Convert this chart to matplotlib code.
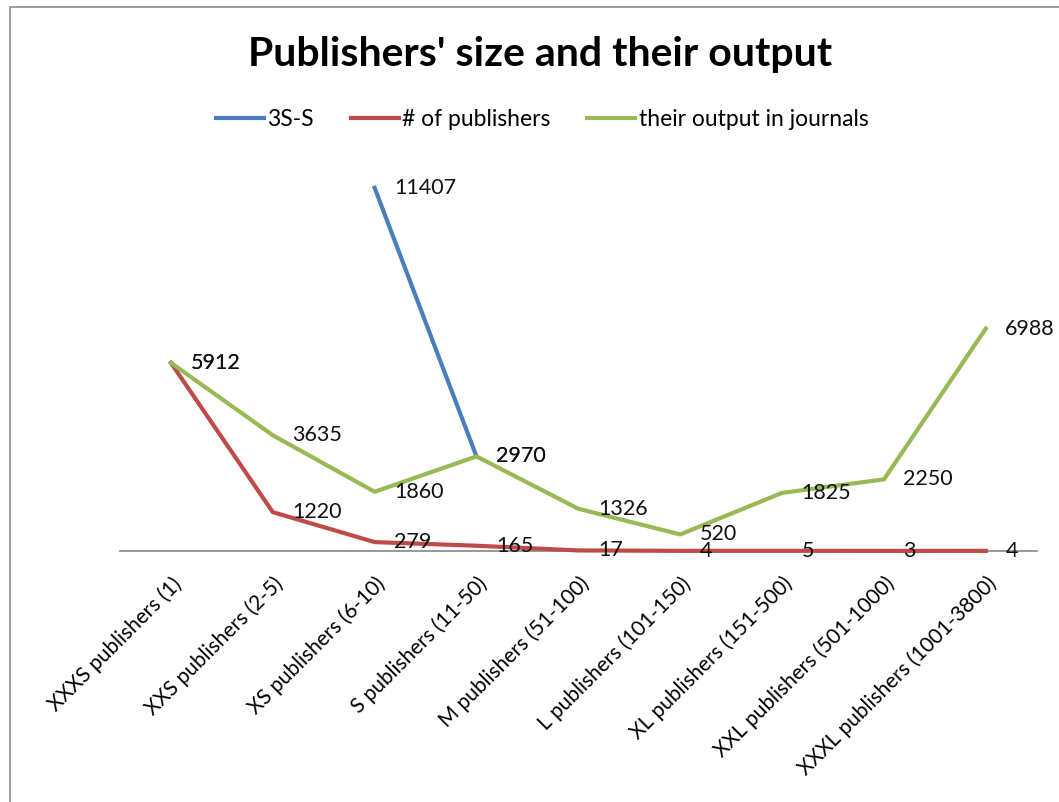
import matplotlib.pyplot as plt
import matplotlib.patches as patches
import numpy as np

# data
categories = ['XXXS publishers (1)', 'XXS publishers (2-5)', 'XS publishers (6-10)',
              'S publishers (11-50)', 'M publishers (51-100)', 'L publishers (101-150)',
              'XL publishers (151-500)', 'XXL publishers (501-1000)', 'XXXL publishers (1001-3800)']
s3s = [np.nan, np.nan, 11407, 2970, np.nan, np.nan, np.nan, np.nan, np.nan]
num_publishers = [5912, 1220, 279, 165, 17, 4, 5, 3, 4]
output_journals = [5912, 3635, 1860, 2970, 1326, 520, 1825, 2250, 6988]

plt.rcParams['font.family'] = ['Lato', 'DejaVu Sans']

fig = plt.figure(figsize=(10.59, 8.02), dpi=100)
ax = fig.add_axes([0.1133, 0.313, 0.8657, 0.4763])

x = np.arange(len(categories))
series = [
    ('3S-S', s3s, '#4A7EBB'),
    ('# of publishers', num_publishers, '#BE4B48'),
    ('their output in journals', output_journals, '#98B954'),
]
for name, vals, col in series:
    ax.plot(x, vals, color=col, lw=3, label=name, clip_on=False, zorder=3)

# data labels
for name, vals, col in series:
    for xi, v in zip(x, vals):
        if np.isnan(v):
            continue
        ax.annotate(f'{int(v)}', (xi, v), xytext=(14, 0), textcoords='offset points',
                    ha='left', va='center', fontsize=15.5, color='#111111', zorder=4)

ax.set_xlim(-0.5, 8.5)
ax.set_ylim(0, 12000)
ax.set_yticks([])
ax.set_xticks(x)
ax.set_xticklabels(categories, rotation=45, ha='right', rotation_mode='anchor', fontsize=15)
ax.tick_params(axis='x', length=0, pad=16)
for s in ['top', 'right', 'left']:
    ax.spines[s].set_visible(False)
ax.spines['bottom'].set_color('#868686')
ax.spines['bottom'].set_linewidth(1.2)

fig.suptitle("Publishers' size and their output", x=0.51, fontsize=29.5, fontweight='bold', y=0.955)
fig.legend(loc='center', bbox_to_anchor=(0.512, 0.851), ncol=3, frameon=False, fontsize=16.5,
           handlelength=2.1, columnspacing=1.6, handletextpad=0.15)

# chart border
fig.add_artist(patches.Rectangle((10 / 1059, -0.1), 1.2, 1 - 7 / 802 + 0.1, transform=fig.transFigure,
                                 fill=False, edgecolor='#8c8c8c', lw=1.2))

plt.savefig('out.png', dpi=100)
